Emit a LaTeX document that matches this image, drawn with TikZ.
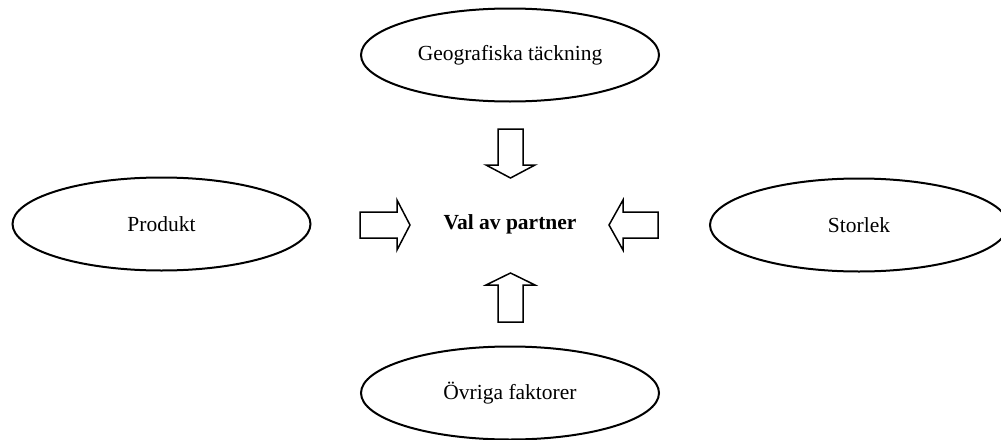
\documentclass[tikz,border=0pt]{standalone}
\usepackage{fontspec}
\setmainfont{Liberation Serif}
\usetikzlibrary{shapes.geometric}
\begin{document}
\begin{tikzpicture}[x=1pt,y=-1pt,
  factor/.style={draw, ellipse, line width=2pt, minimum width=298pt, minimum height=93pt, inner sep=0pt,
    font=\fontsize{21.5}{26}\selectfont},
  blockarrow/.style={draw, line width=1.5pt, line join=miter, fill=white}]
\useasboundingbox (0,0) rectangle (1001,439);
% factor ellipses around the central decision
\node[factor] (geo) at (510,55) {Geografiska täckning};
\node[factor] (prod) at (161.5,224) {Produkt};
\node[factor] (size) at (859,225) {Storlek};
\node[factor] (other) at (510,393) {Övriga faktorer};
% central text
\node[font=\fontsize{21.5}{26}\selectfont\bfseries] (val) at (510,224) {Val av partner};
% block arrows pointing towards the centre
\draw[blockarrow] (498,129) -- (523,129) -- (523,165) -- (535,165) -- (510.5,178) -- (486,165) -- (498,165) -- cycle;
\draw[blockarrow] (498,322) -- (523,322) -- (523,285) -- (535,285) -- (510.5,273) -- (486,285) -- (498,285) -- cycle;
\draw[blockarrow] (360,212) -- (397,212) -- (397,200) -- (410,225) -- (397,250) -- (397,238) -- (360,238) -- cycle;
\draw[blockarrow] (658,212) -- (623,212) -- (623,200) -- (609,225) -- (623,250) -- (623,238) -- (658,238) -- cycle;
\end{tikzpicture}
\end{document}
